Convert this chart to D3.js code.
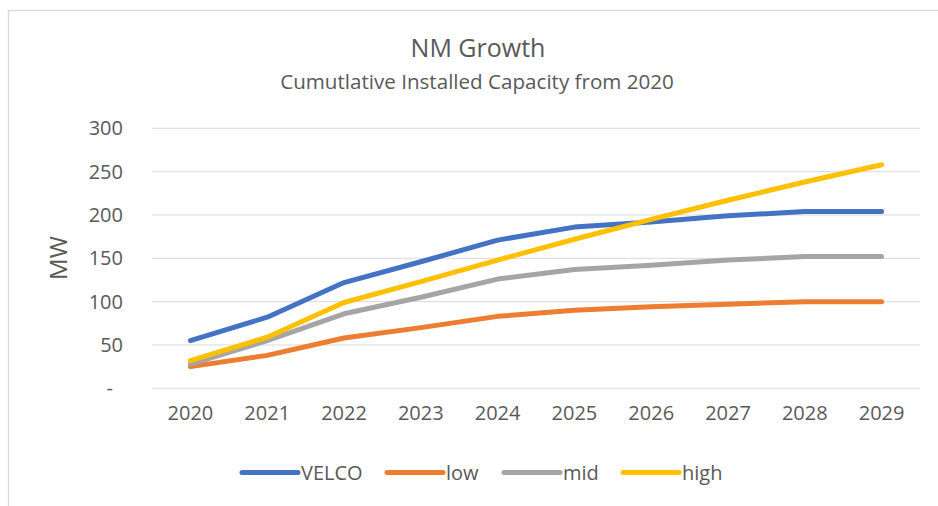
<!DOCTYPE html>
<html>
<head>
<meta charset="utf-8">
<script src="https://cdn.jsdelivr.net/npm/d3@7"></script>
<style>
  body { margin: 0; background: #fff; }
  text { font-family: "Open Sans", "Noto Sans", sans-serif; fill: #595959; }
</style>
</head>
<body>
<div id="chart"></div>
<script>
// data
var years = ["2020","2021","2022","2023","2024","2025","2026","2027","2028","2029"];
var velco = [55, 82, 122, 146, 171, 186, 192, 199, 204, 204];
var low   = [25, 38, 58, 70, 83, 90, 94, 97, 100, 100];
var mid   = [28, 55, 86, 105, 126, 137, 142, 148, 152, 152];
var high  = [32, 59, 99, 123, 148, 172, 195, 217, 238, 258];
var seriesNames = ["VELCO", "low", "mid", "high"];
var seriesColors = ["#4472C4", "#ED7D31", "#A5A5A5", "#FFC000"];
var yTicks = [0, 50, 100, 150, 200, 250, 300];

var series = [velco, low, mid, high].map(function(v, i) {
  return { name: seriesNames[i], color: seriesColors[i], values: v };
});

var W = 938, H = 506;
var svg = d3.select("#chart").append("svg").attr("width", W).attr("height", H);

// chart area border (runs off right and bottom)
svg.append("rect")
  .attr("x", 8.5).attr("y", 10.5).attr("width", 960).attr("height", 520)
  .attr("fill", "none").attr("stroke", "#d9d9d9").attr("stroke-width", 1.3);

var x = d3.scaleBand().domain(years).range([152, 920]).padding(0);
var y = d3.scaleLinear().domain([0, 300]).range([388.3, 128.3]);

// gridlines
svg.append("g").selectAll("line").data(yTicks).enter().append("line")
  .attr("x1", 152).attr("x2", 920)
  .attr("y1", function(d) { return y(d); })
  .attr("y2", function(d) { return y(d); })
  .attr("stroke", "#d9d9d9").attr("stroke-width", 1);

// y axis labels
var ya = svg.append("g").attr("transform", "translate(123,0)")
  .call(d3.axisLeft(y).tickValues(yTicks).tickSize(0).tickPadding(0)
    .tickFormat(function(d) { return d === 0 ? "-" : d; }));
ya.select(".domain").remove();
ya.selectAll("text").attr("font-size", 20).attr("font-family", null).attr("fill", null)
  .attr("dx", function(d) { return d === 0 ? -10 : 0; });

// x axis labels
var xa = svg.append("g").attr("transform", "translate(0,400)")
  .call(d3.axisBottom(x).tickSize(0).tickPadding(0));
xa.select(".domain").remove();
xa.selectAll("text").attr("font-size", 20).attr("font-family", null).attr("fill", null)
  .attr("dy", "1em");

// axis title
svg.append("text")
  .attr("transform", "translate(67,258) rotate(-90)")
  .attr("text-anchor", "middle").attr("font-size", 24).text("MW");

// titles
svg.append("text").attr("x", 478).attr("y", 57).attr("text-anchor", "middle")
  .attr("font-size", 25).text("NM Growth");
svg.append("text").attr("x", 477).attr("y", 89).attr("text-anchor", "middle")
  .attr("font-size", 20.6).text("Cumutlative Installed Capacity from 2020");

// lines
var line = d3.line()
  .x(function(d, i) { return x(years[i]) + x.bandwidth() / 2; })
  .y(function(d) { return y(d); });

svg.append("g").selectAll("path").data(series).enter().append("path")
  .attr("d", function(d) { return line(d.values); })
  .attr("fill", "none")
  .attr("stroke", function(d) { return d.color; })
  .attr("stroke-width", 5)
  .attr("stroke-linecap", "round")
  .attr("stroke-linejoin", "round");

// legend
var legX = [242, 387, 504, 623];
var lg = svg.append("g").selectAll("g").data(series).enter().append("g")
  .attr("transform", function(d, i) { return "translate(" + legX[i] + ",472.5)"; });
lg.append("line").attr("x1", 0).attr("x2", 56)
  .attr("stroke", function(d) { return d.color; })
  .attr("stroke-width", 5).attr("stroke-linecap", "round");
lg.append("text").attr("x", 59).attr("dy", "0.36em").attr("font-size", 20)
  .text(function(d) { return d.name; });
</script>
</body>
</html>
